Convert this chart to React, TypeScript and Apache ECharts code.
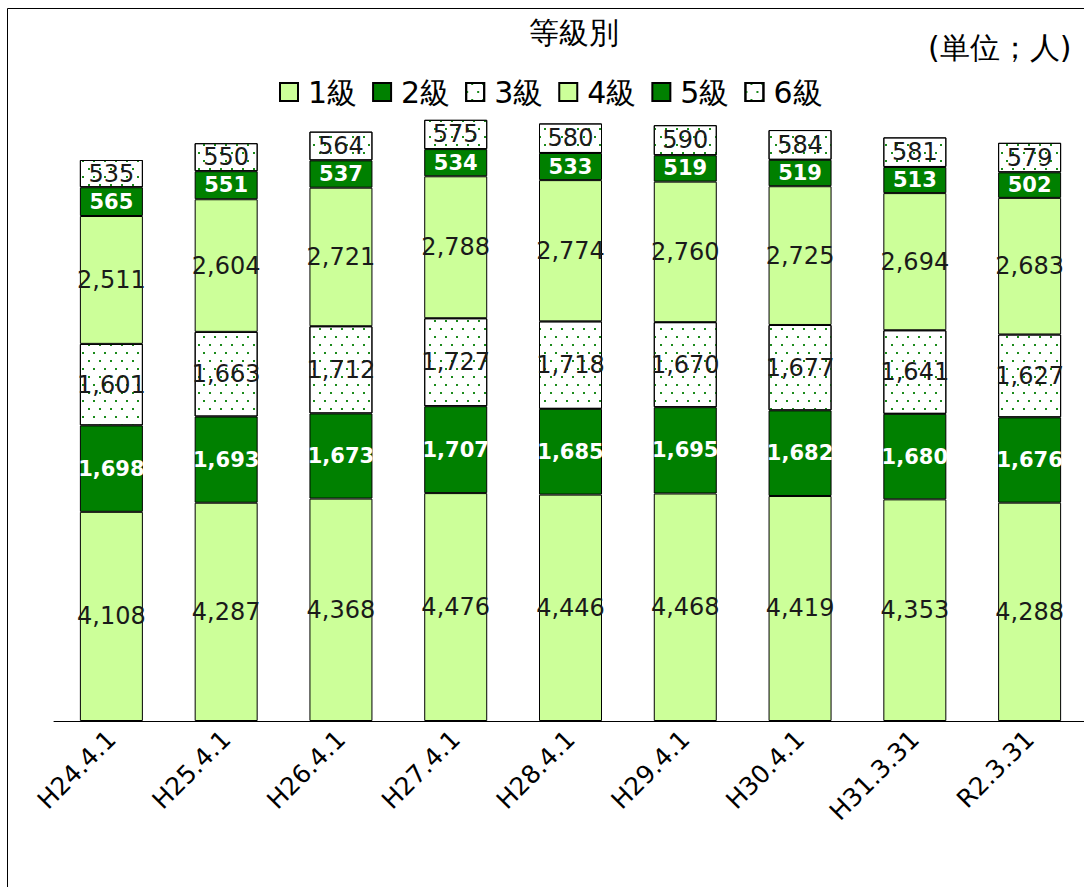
import React, { useEffect, useRef } from "react";
import * as echarts from "echarts";

const categories = ["H24.4.1", "H25.4.1", "H26.4.1", "H27.4.1", "H28.4.1", "H29.4.1", "H30.4.1", "H31.3.31", "R2.3.31"];
const seriesNames = ["1級", "2級", "3級", "4級", "5級", "6級"];
const grade1 = [4108, 4287, 4368, 4476, 4446, 4468, 4419, 4353, 4288];
const grade2 = [1698, 1693, 1673, 1707, 1685, 1695, 1682, 1680, 1676];
const grade3 = [1601, 1663, 1712, 1727, 1718, 1670, 1677, 1641, 1627];
const grade4 = [2511, 2604, 2721, 2788, 2774, 2760, 2725, 2694, 2683];
const grade5 = [565, 551, 537, 534, 533, 519, 519, 513, 502];
const grade6 = [535, 550, 564, 575, 580, 590, 584, 581, 579];
const titleText = "等級別";
const unitText = "(単位；人)";

const LIGHT = "#CCFF99";
const DARK = "#008000";
const FONT = "'DejaVu Sans', Verdana, sans-serif";

const fmt = (v: number) => String(v).replace(/\B(?=(\d{3})+(?!\d))/g, ",");

const dotDecal = {
  symbol: "rect",
  symbolSize: 1,
  color: "#1a8a1a",
  backgroundColor: "#ffffff",
  dashArrayX: [[1.6, 8.4], [0, 5, 1.6, 3.4]],
  dashArrayY: [1.6, 5.4],
  rotation: 0,
};

type Kind = "light" | "dark" | "dots";
const kinds: Kind[] = ["light", "dark", "dots", "light", "dark", "dots"];
const dataSets = [grade1, grade2, grade3, grade4, grade5, grade6];

export default function App() {
  const ref = useRef<HTMLDivElement>(null);
  useEffect(() => {
    if (!ref.current) return;
    const chart = echarts.init(ref.current, undefined, { renderer: "svg" });
    const series = dataSets.map((d, i) => {
      const k = kinds[i];
      const itemStyle: any = {
        color: k === "light" ? LIGHT : k === "dark" ? DARK : "#ffffff",
        borderColor: "#000",
        borderWidth: 1,
      };
      if (k === "dots") itemStyle.decal = dotDecal;
      return {
        name: seriesNames[i],
        type: "bar",
        stack: "total",
        barWidth: 63,
        data: d,
        itemStyle,
        label: {
          show: true,
          position: "inside",
          formatter: (p: any) => fmt(p.value),
          color: k === "dark" ? "#ffffff" : "#1a1a1a",
          fontWeight: k === "dark" ? "bold" : "normal",
          fontSize: k === "dark" ? 21 : 24,
          fontFamily: FONT,
        },
        emphasis: { disabled: true },
      };
    });
    chart.setOption({
      animation: false,
      title: {
        text: titleText,
        left: 569,
        top: 12,
        textAlign: "center",
        textStyle: { fontSize: 30, fontWeight: "normal", color: "#000", fontFamily: FONT },
      },
      legend: {
        data: seriesNames,
        left: 274,
        top: 72,
        icon: "rect",
        itemWidth: 18,
        itemHeight: 18,
        itemGap: 15,
        textStyle: { fontSize: 30, color: "#000", fontFamily: FONT, padding: [0, 0, 0, 5] },
      },
      graphic: [
        { type: "line", shape: { x1: 7.5, y1: 8.5, x2: 1090, y2: 8.5 }, style: { stroke: "#000", lineWidth: 1 } },
        { type: "line", shape: { x1: 7.5, y1: 8.5, x2: 7.5, y2: 887 }, style: { stroke: "#000", lineWidth: 1 } },
        {
          type: "text",
          left: 928,
          top: 32,
          style: { text: unitText, fontSize: 30, fill: "#000", fontFamily: FONT },
        },
      ],
      grid: { left: 54, right: 3, top: 110, bottom: 166, containLabel: false },
      xAxis: {
        type: "category",
        data: categories,
        axisLine: { lineStyle: { color: "#000", width: 1 } },
        axisTick: { show: false },
        axisLabel: { rotate: 45, fontSize: 25, color: "#000", margin: 14, fontFamily: FONT, interval: 0 },
      },
      yAxis: {
        type: "value",
        min: 0,
        max: 12000,
        show: false,
        splitLine: { show: false },
      },
      series,
    });
    return () => chart.dispose();
  }, []);
  return (
    <div style={{ position: "fixed", left: 0, top: 0, width: 1084, height: 887, overflow: "hidden", background: "#fff" }}>
      <div ref={ref} style={{ position: "absolute", left: 0, top: 0, width: 1090, height: 887 }} />
    </div>
  );
}
